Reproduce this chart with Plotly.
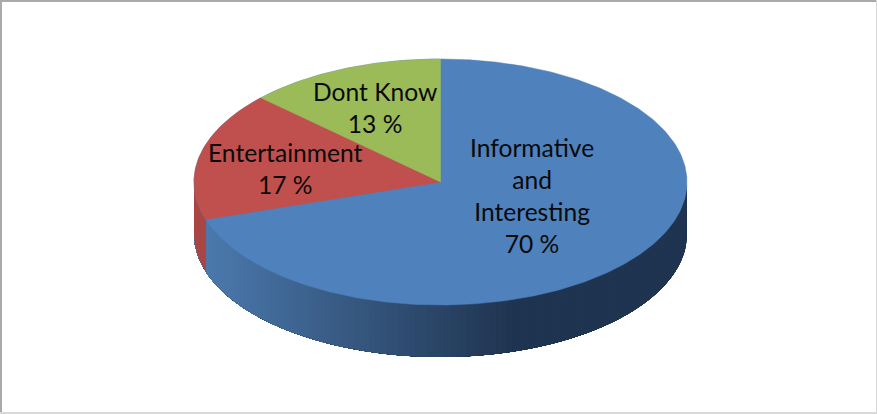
import numpy as np
import plotly.graph_objects as go

# Survey shares, drawn clockwise from twelve o'clock
categories = ["Informative and Interesting", "Entertainment", "Dont Know"]
shares = [70, 17, 13]
slice_labels = ["Informative<br>and<br>Interesting<br>70 %", "Entertainment<br>17 %", "Dont Know<br>13 %"]

# Disc geometry in canvas pixels
WIDTH, HEIGHT = 877, 414
CX, CY, RX, RY, DEPTH = 440.5, 182, 246.5, 123, 52

top_colors = ["#4f81bd", "#c0504d", "#9bbb59"]
wall_left = np.array([0x4b, 0x79, 0xad])
wall_right = np.array([0x1f, 0x34, 0x50])
red_wall = "#a94643"
label_pos = [(532, 195), (285, 168), (375, 107)]


def rim(deg):
    """Point on the top ellipse, angle measured clockwise from the top."""
    a = np.radians(deg)
    return CX + RX * np.sin(a), CY - RY * np.cos(a)


def wall_color(x):
    t = float(np.clip((x - 207) / (515 - 207), 0, 1))
    c = wall_left + (wall_right - wall_left) * t
    return "rgb({:.0f},{:.0f},{:.0f})".format(*c)


def polygon(xs, ys, color, edge=0.0):
    return go.Scatter(x=xs, y=ys, mode="lines", fill="toself", fillcolor=color,
                      line=dict(color=color, width=edge), hoverinfo="skip", showlegend=False)


# Slice boundaries follow from the shares
edges = np.cumsum([0] + shares) / sum(shares) * 360

fig = go.Figure()

# Outer side wall: each band runs on to the left end of the wall and the next
# one paints over it, so no background shows between neighbouring shades
wall_end = 270.0
band_starts = np.r_[np.linspace(90, edges[1], 120, endpoint=False), edges[1]]
for start in band_starts:
    arc = np.linspace(start, wall_end, 200)
    xs, ys = rim(arc)
    color = red_wall if start >= edges[1] else wall_color(rim(start)[0])
    fig.add_trace(polygon(np.r_[xs, xs[::-1]], np.r_[ys, ys[::-1] + DEPTH], color))

# Whole disc in the first slice colour, so the slice seams have no pale fringe
xs, ys = rim(np.linspace(0, 360, 480))
fig.add_trace(polygon(xs, ys, top_colors[0], edge=0.5))

# Top face of the remaining slices
for share_start, share_end, color in zip(edges[1:-1], edges[2:], top_colors[1:]):
    arc = np.linspace(share_start, share_end, 240)
    xs, ys = rim(arc)
    fig.add_trace(polygon(np.r_[CX, xs, CX], np.r_[CY, ys, CY], color, edge=0.5))

for text, (x, y) in zip(slice_labels, label_pos):
    fig.add_annotation(x=x, y=y, text=text, showarrow=False, xanchor="center", yanchor="middle",
                       font=dict(family="Lato", size=24.6, color="#0a0a0a"))

# Thin grey frame round the chart area
frame = [
    (0, 0, WIDTH, 2, "#aaaaaa"),
    (0, 0, 2, HEIGHT, "#aaaaaa"),
    (WIDTH - 1, 0, WIDTH, HEIGHT, "#d9d9d9"),
    (0, HEIGHT - 2, WIDTH, HEIGHT, "#d9d9d9"),
]
for x0, y0, x1, y1, color in frame:
    fig.add_shape(type="rect", x0=x0, y0=y0, x1=x1, y1=y1,
                  line=dict(width=0), fillcolor=color, layer="above")

fig.update_layout(
    width=WIDTH, height=HEIGHT, margin=dict(l=0, r=0, t=0, b=0),
    paper_bgcolor="white", plot_bgcolor="white", showlegend=False,
    xaxis=dict(range=[0, WIDTH], visible=False, fixedrange=True),
    yaxis=dict(range=[HEIGHT, 0], visible=False, fixedrange=True),
)

fig.write_html("out.html", config={"displayModeBar": False})
